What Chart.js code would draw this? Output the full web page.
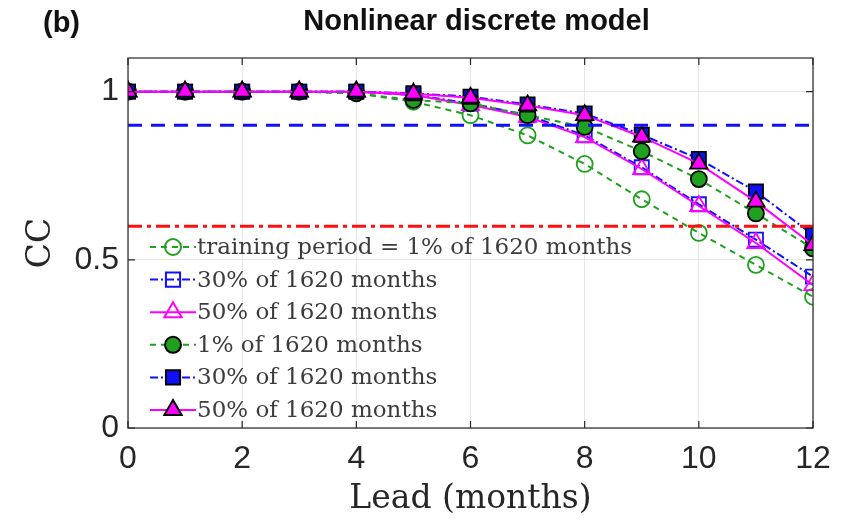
<!DOCTYPE html>
<html>
<head>
<meta charset="utf-8">
<script src="https://cdn.jsdelivr.net/npm/chart.js@4.4.1/dist/chart.umd.min.js"></script>
<style>
  html, body { margin: 0; padding: 0; background: #fff; }
  #wrap { width: 847px; height: 525px; }
</style>
</head>
<body>
<div id="wrap"><canvas id="cc" width="847" height="525"></canvas></div>
<script>
// lead months on the x axis
const leads = [0, 1, 2, 3, 4, 5, 6, 7, 8, 9, 10, 11, 12];

// correlation skill, open markers
const open1 = [1, 1, 1, 1, 0.995, 0.97, 0.93, 0.87, 0.785, 0.68, 0.58, 0.485, 0.39];
const open30 = [1, 1, 1, 1, 1, 0.99, 0.965, 0.93, 0.87, 0.775, 0.665, 0.56, 0.45];
const open50 = [1, 1, 1, 1, 1, 0.99, 0.96, 0.925, 0.865, 0.77, 0.66, 0.55, 0.425];
// filled markers
const fill1 = [1, 1, 1, 1, 0.995, 0.975, 0.965, 0.93, 0.895, 0.823, 0.74, 0.638, 0.534];
const fill30 = [1, 1, 1, 1, 1, 0.995, 0.985, 0.962, 0.935, 0.872, 0.80, 0.703, 0.574];
const fill50 = [1, 1, 1, 1, 1, 0.994, 0.982, 0.959, 0.93, 0.866, 0.786, 0.673, 0.544];

const labels = [
  'training period = 1% of 1620 months',
  '30% of 1620 months',
  '50% of 1620 months',
  '1% of 1620 months',
  '30% of 1620 months',
  '50% of 1620 months'
];

const refLevels = [0.9, 0.6];
const xTicks = [0, 2, 4, 6, 8, 10, 12];
const yTicks = [0, 0.5, 1];

const GREEN = '#1fa01f';
const BLUE = '#1010ff';
const MAGENTA = '#ff00ff';
const DASH = [6, 5];
const DASHDOT = [8, 3, 2, 3];

const pts = vals => leads.map((x, i) => ({ x: x, y: vals[i] }));

function series(label, vals, color, dash, style, filled, idx) {
  const r = style === 'circle' ? 8 : 10;
  return {
    label: label,
    data: pts(vals),
    borderColor: color,
    borderWidth: 2,
    borderDash: dash,
    pointStyle: style,
    pointRadius: r,
    pointBorderWidth: 1.8,
    pointBackgroundColor: filled ? color : 'rgba(0,0,0,0)',
    pointBorderColor: filled ? '#000' : color,
    order: 20 - idx,
    tension: 0
  };
}

const datasets = [
  series(labels[0], open1, GREEN, DASH, 'circle', false, 0),
  series(labels[1], open30, BLUE, DASHDOT, 'rect', false, 1),
  series(labels[2], open50, MAGENTA, [], 'triangle', false, 2),
  series(labels[3], fill1, GREEN, DASH, 'circle', true, 3),
  series(labels[4], fill30, BLUE, DASHDOT, 'rect', true, 4),
  series(labels[5], fill50, MAGENTA, [], 'triangle', true, 5),
  {
    label: 'ref1',
    data: [{ x: leads[0], y: refLevels[0] }, { x: leads[leads.length - 1], y: refLevels[0] }],
    borderColor: BLUE, borderWidth: 3, borderDash: [14, 9], pointRadius: 0, order: 0
  },
  {
    label: 'ref2',
    data: [{ x: leads[0], y: refLevels[1] }, { x: leads[leads.length - 1], y: refLevels[1] }],
    borderColor: '#ff1010', borderWidth: 3, borderDash: [14, 5, 4, 5], pointRadius: 0, order: 0
  }
];

// box, inward ticks, titles and the legend, drawn the matlab way
const decorations = {
  id: 'decorations',
  afterDatasetsDraw(chart) {
    const ctx = chart.ctx;
    const a = chart.chartArea;
    const xs = chart.scales.x, ys = chart.scales.y;
    ctx.save();
    ctx.strokeStyle = '#262626';
    ctx.lineWidth = 1.2;
    ctx.strokeRect(a.left, a.top, a.right - a.left, a.bottom - a.top);
    ctx.beginPath();
    xTicks.forEach(t => {
      const px = xs.getPixelForValue(t);
      ctx.moveTo(px, a.bottom); ctx.lineTo(px, a.bottom - 7);
      ctx.moveTo(px, a.top); ctx.lineTo(px, a.top + 7);
    });
    yTicks.forEach(t => {
      const py = ys.getPixelForValue(t);
      ctx.moveTo(a.left, py); ctx.lineTo(a.left + 7, py);
      ctx.moveTo(a.right, py); ctx.lineTo(a.right - 7, py);
    });
    ctx.stroke();

    // legend
    const lx = a.left + 22, rowH = 32.6;
    let ly = 247;
    for (let i = 0; i < 6; i++) {
      const ds = chart.data.datasets[i];
      ctx.save();
      ctx.strokeStyle = ds.borderColor;
      ctx.lineWidth = ds.borderWidth;
      ctx.setLineDash(ds.borderDash);
      ctx.beginPath();
      ctx.moveTo(lx, ly); ctx.lineTo(lx + 46, ly);
      ctx.stroke();
      ctx.setLineDash([]);
      ctx.fillStyle = ds.pointBackgroundColor;
      ctx.strokeStyle = ds.pointBorderColor;
      Chart.helpers.drawPoint(ctx, {
        pointStyle: ds.pointStyle, radius: ds.pointRadius,
        borderWidth: ds.pointBorderWidth, rotation: 0
      }, lx + 23, ly);
      ctx.restore();
      ctx.fillStyle = '#3c3c3c';
      ctx.font = '23px "DejaVu Serif"';
      ctx.textBaseline = 'middle';
      ctx.fillText(ds.label, lx + 47, ly + 1);
      ly += rowH;
    }

    // titles
    ctx.fillStyle = '#111';
    ctx.font = 'bold 29px "Liberation Sans"';
    ctx.textBaseline = 'middle';
    ctx.textAlign = 'left';
    ctx.fillText('(b)', 43, 24);
    ctx.textAlign = 'center';
    ctx.fillText('Nonlinear discrete model', (a.left + a.right) / 2 + 6, 22);
    ctx.restore();
  }
};

new Chart(document.getElementById('cc'), {
  type: 'line',
  data: { datasets: datasets },
  options: {
    responsive: false,
    animation: false,
    layout: { padding: { top: 58, right: 34, left: 0, bottom: 0 } },
    plugins: { legend: { display: false }, tooltip: { enabled: false }, title: { display: false } },
    scales: {
      x: {
        type: 'linear',
        min: 0, max: 12,
        afterBuildTicks: s => { s.ticks = xTicks.map(v => ({ value: v })); },
        afterFit: s => { s.height = 97; },
        grid: { color: '#e6e6e6', lineWidth: 1, drawTicks: false },
        border: { display: false },
        ticks: { color: '#262626', font: { family: 'Liberation Sans', size: 32 }, padding: 12, maxRotation: 0 },
        title: { display: true, text: 'Lead (months)', color: '#262626', font: { family: 'DejaVu Serif', size: 33 }, padding: { top: 0, bottom: 6 } }
      },
      y: {
        min: 0, max: 1.1,
        afterBuildTicks: s => { s.ticks = yTicks.map(v => ({ value: v })); },
        afterFit: s => { s.width = 128; },
        grid: { color: '#e6e6e6', lineWidth: 1, drawTicks: false },
        border: { display: false },
        ticks: { color: '#262626', font: { family: 'Liberation Sans', size: 32 }, padding: 9, callback: v => String(v) },
        title: { display: true, text: 'CC', color: '#262626', font: { family: 'DejaVu Serif', size: 33 }, padding: { top: 22, bottom: 8 } }
      }
    }
  },
  plugins: [decorations]
});
</script>
</body>
</html>
